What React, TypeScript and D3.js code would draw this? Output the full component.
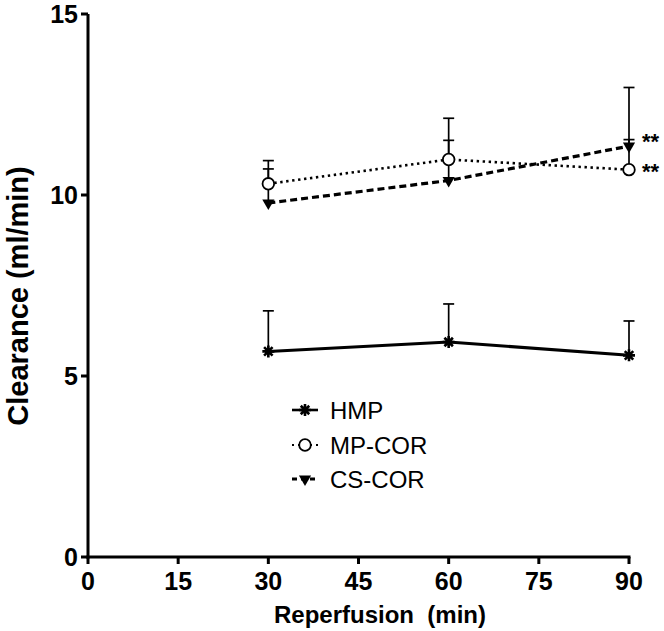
import * as d3 from 'd3';

// reperfusion time points (min)
const times = [30, 60, 90];

// group means and upper error (SEM) values, ml/min
const hmpMean = [5.68, 5.94, 5.57];
const hmpErr = [1.12, 1.05, 0.95];
const mpMean = [10.31, 10.98, 10.7];
const mpErr = [0.64, 1.14, 0.83];
const csMean = [9.78, 10.4, 11.35];
const csErr = [0.94, 1.11, 1.62];

const xTicks = [0, 15, 30, 45, 60, 75, 90];
const yTicks = [0, 5, 10, 15];

const seriesNames = ['HMP', 'MP-COR', 'CS-COR'];
// significance marks at the last time point (CS-COR, MP-COR)
const sigMarks = ['**', '**'];

const W = 664;
const H = 631;
const FONT = '"Liberation Sans", Arial, Helvetica, sans-serif';

const x = d3.scaleLinear().domain([0, 90]).range([88, 629]);
const y = d3.scaleLinear().domain([0, 15]).range([557, 14]);

type Kind = 'star' | 'circle' | 'tri';

const starPath = (r: number) => {
  const p = d3.path();
  for (let i = 0; i < 4; i++) {
    const a = (i * Math.PI) / 4;
    p.moveTo(Math.cos(a) * r, Math.sin(a) * r);
    p.lineTo(-Math.cos(a) * r, -Math.sin(a) * r);
  }
  return p.toString();
};
const triPath = d3.symbol(d3.symbolTriangle, 64)()!;

const Marker = ({ kind, cx, cy }: { kind: Kind; cx: number; cy: number }) => {
  if (kind === 'star')
    return (
      <g transform={`translate(${cx},${cy})`}>
        <circle r={3} fill="#000" />
        <path d={starPath(6)} stroke="#000" strokeWidth={2.6} />
      </g>
    );
  if (kind === 'circle')
    return <circle cx={cx} cy={cy} r={5.8} fill="#fff" stroke="#000" strokeWidth={1.8} />;
  return <path d={triPath} transform={`translate(${cx},${cy}) rotate(180)`} fill="#000" />;
};

const series = [
  { name: seriesNames[0], mean: hmpMean, err: hmpErr, kind: 'star' as Kind, dash: '', width: 3 },
  { name: seriesNames[1], mean: mpMean, err: mpErr, kind: 'circle' as Kind, dash: '2.4 3.6', width: 2.6 },
  { name: seriesNames[2], mean: csMean, err: csErr, kind: 'tri' as Kind, dash: '7 4', width: 3.2 },
];

const line = d3
  .line<number>()
  .x((_, i) => x(times[i]))
  .y((d) => y(d));

export default function App() {
  const legendY = [410, 445, 479];
  const sigY = [y(csMean[2]) + 3, y(mpMean[2]) + 9];
  return (
    <svg width={W} height={H} style={{ position: 'absolute', left: 0, top: 0, background: '#fff' }} fontFamily={FONT}>
      {/* error bars, drawn first so markers sit on top */}
      {series.map((s) =>
        s.mean.map((m, i) => (
          <g key={`${s.name}-e${i}`} stroke="#000" strokeWidth={1.7}>
            <line x1={x(times[i])} x2={x(times[i])} y1={y(m)} y2={y(m + s.err[i])} />
            <line x1={x(times[i]) - 5.5} x2={x(times[i]) + 5.5} y1={y(m + s.err[i])} y2={y(m + s.err[i])} />
          </g>
        ))
      )}

      {series.map((s) => (
        <path
          key={`${s.name}-l`}
          d={line(s.mean)!}
          fill="none"
          stroke="#000"
          strokeWidth={s.width}
          strokeDasharray={s.dash || undefined}
        />
      ))}

      {series.map((s) =>
        s.mean.map((m, i) => <Marker key={`${s.name}-m${i}`} kind={s.kind} cx={x(times[i])} cy={y(m)} />)
      )}

      {/* ** next to the 90 min points */}
      {sigMarks.map((t, i) => (
        <text key={`sig${i}`} x={x(90) + 13} y={sigY[i]} fontSize={22} fontWeight="bold">
          {t}
        </text>
      ))}

      {/* y axis */}
      <g stroke="#000" strokeWidth={3}>
        <line x1={x(0)} x2={x(0)} y1={y(0) + 1.5} y2={y(15)} />
        {yTicks.map((t) => (
          <line key={`yt${t}`} x1={x(0) - 7} x2={x(0)} y1={y(t)} y2={y(t)} />
        ))}
      </g>
      {yTicks.map((t) => (
        <text key={`yl${t}`} x={x(0) - 10} y={y(t)} dy="0.36em" textAnchor="end" fontSize={25} fontWeight="bold">
          {t}
        </text>
      ))}

      {/* x axis */}
      <g stroke="#000" strokeWidth={3}>
        <line x1={x(0) - 1.5} x2={x(90) + 1.5} y1={y(0)} y2={y(0)} />
        {xTicks.map((t) => (
          <line key={`xt${t}`} x1={x(t)} x2={x(t)} y1={y(0)} y2={y(0) + 7} />
        ))}
      </g>
      {xTicks.map((t) => (
        <text key={`xl${t}`} x={x(t)} y={590} textAnchor="middle" fontSize={25} fontWeight="bold">
          {t}
        </text>
      ))}

      <text x={380} y={623} textAnchor="middle" fontSize={24} fontWeight="bold" style={{ whiteSpace: 'pre' }}>
        {'Reperfusion  (min)'}
      </text>
      <text transform="translate(28,296) rotate(-90)" textAnchor="middle" fontSize={29} fontWeight="bold">
        Clearance (ml/min)
      </text>

      {/* legend */}
      {series.map((s, i) => (
        <g key={`lg${i}`}>
          <line
            x1={292}
            x2={318}
            y1={legendY[i]}
            y2={legendY[i]}
            stroke="#000"
            strokeWidth={s.width - 0.4}
            strokeDasharray={s.dash ? (i === 1 ? '2 4' : '5 4') : undefined}
          />
          <Marker kind={s.kind} cx={305} cy={legendY[i]} />
          <text x={330} y={legendY[i]} dy="0.36em" fontSize={24}>
            {s.name}
          </text>
        </g>
      ))}
    </svg>
  );
}
